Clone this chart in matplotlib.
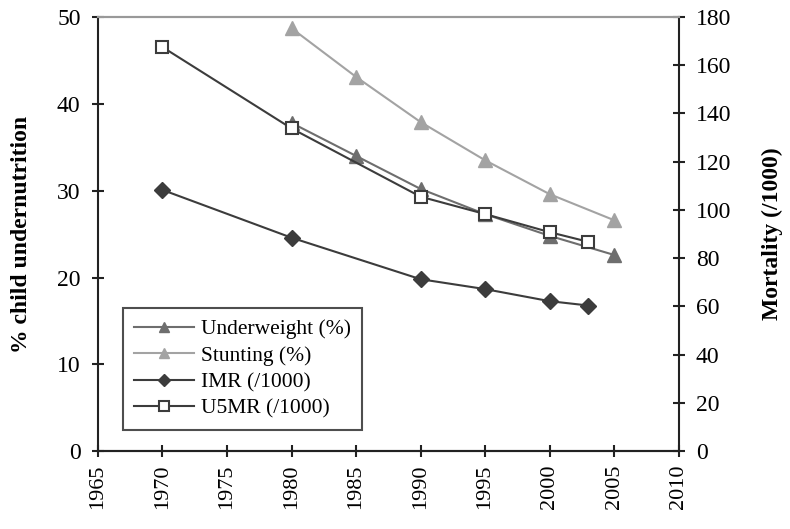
import matplotlib
matplotlib.use("Agg")
import matplotlib.pyplot as plt

plt.rcParams['font.family'] = ['Liberation Serif', 'DejaVu Serif']

# nutrition series (% children), left axis
nut_years = [1980, 1985, 1990, 1995, 2000, 2005]
underweight = [37.8, 34.0, 30.2, 27.3, 24.8, 22.6]
stunting = [48.7, 43.1, 37.9, 33.5, 29.6, 26.6]

# mortality series (/1000), right axis
mort_years = [1970, 1980, 1990, 1995, 2000, 2003]
imr = [108.3, 88.5, 71.3, 67.2, 62.2, 60.4]
u5mr = [167.5, 133.8, 105.5, 98.3, 90.8, 86.8]

fig = plt.figure(figsize=(7.9, 5.29), dpi=100)
ax = fig.add_axes([0.124, 0.147, 0.735, 0.821])
ax2 = ax.twinx()

l1, = ax.plot(nut_years, underweight, color='#6e6e6e', marker='^', ms=10, lw=1.5,
              label='Underweight (%)')
l2, = ax.plot(nut_years, stunting, color='#a3a3a3', marker='^', ms=10, lw=1.5,
              label='Stunting (%)')
l3, = ax2.plot(mort_years, imr, color='#3c3c3c', marker='D', ms=8, lw=1.5,
               label='IMR (/1000)')
l4, = ax2.plot(mort_years, u5mr, color='#3c3c3c', marker='s', ms=9, lw=1.5,
               mfc='white', mec='#3c3c3c', mew=1.5, label='U5MR (/1000)')

ax.set_xlim(1965, 2010)
ax.set_ylim(0, 50)
ax2.set_ylim(0, 180)
ax.set_xticks(range(1965, 2011, 5))
ax.set_yticks(range(0, 51, 10))
ax2.set_yticks(range(0, 181, 20))

for a in (ax, ax2):
    a.tick_params(direction='inout', length=9, width=1.5, labelsize=17, color='#222222')
    for s in a.spines.values():
        s.set_linewidth(1.5)
        s.set_color('#222222')
    a.spines['top'].set_color('#999999')
ax.tick_params(axis='x', rotation=90, pad=5, labelsize=16)
ax.tick_params(axis='y', pad=8)
ax2.tick_params(axis='y', pad=8)
ax.spines['right'].set_visible(False)
ax2.spines['left'].set_visible(False)

ax.set_ylabel('% child undernutrition', fontsize=17, fontweight='bold', labelpad=18)
ax2.set_ylabel('Mortality (/1000)', fontsize=17, fontweight='bold', labelpad=22)

leg = ax.legend(handles=[l1, l2, l3, l4], loc='lower left', bbox_to_anchor=(0.025, 0.025),
                fontsize=15.5, frameon=True, fancybox=False, borderpad=0.5,
                handlelength=2.8, labelspacing=0.3, handletextpad=0.3, markerscale=0.75)
leg.get_frame().set_edgecolor('#222222')
leg.get_frame().set_linewidth(1.5)

fig.savefig('out.png', dpi=100)
